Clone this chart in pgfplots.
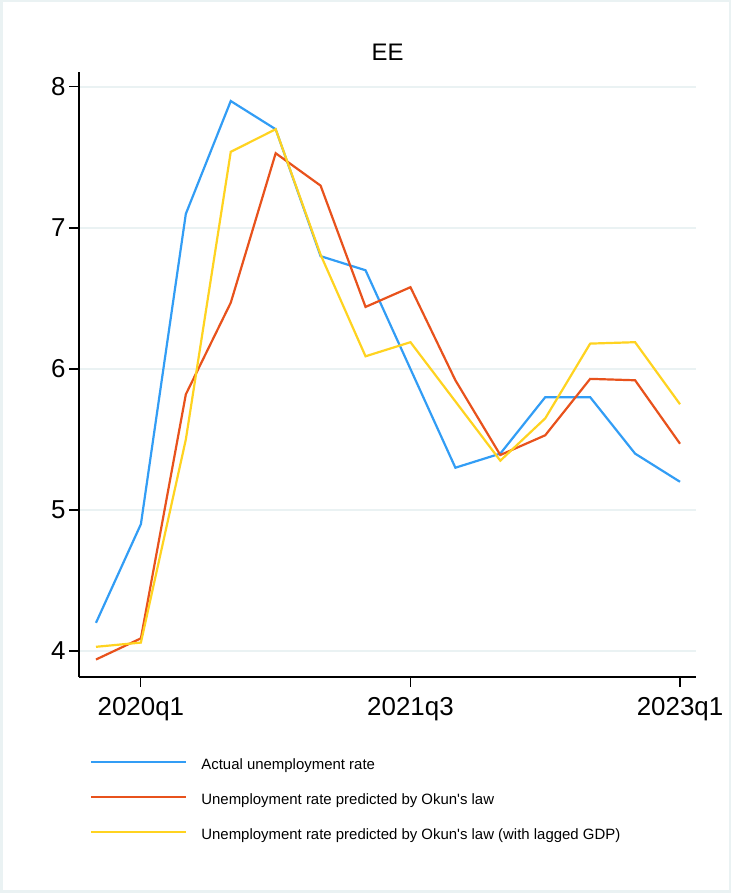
\documentclass[border=0pt]{standalone}
\usepackage{fontspec}
\setmainfont{Liberation Sans}
\usepackage{pgfplots}
\pgfplotsset{compat=1.18}

\definecolor{actblue}{RGB}{50,157,245}
\definecolor{okunred}{RGB}{232,82,28}
\definecolor{lagyellow}{RGB}{255,211,32}
\definecolor{gridgray}{RGB}{234,242,243}

% quarters: -1 = 2019q4, 0 = 2020q1, ..., 12 = 2023q1
\begin{document}
\begin{tikzpicture}[x=1bp,y=1bp]
  \useasboundingbox (0,0) rectangle (731,893);
  \draw[gridgray, line width=2.5bp] (1.25,1.25) rectangle (729.75,891.75);
  \begin{axis}[
    at={(79bp,216bp)}, anchor=south west,
    scale only axis,
    width=617bp, height=605bp,
    xmin=-1.378, xmax=12.356,
    ymin=3.816, ymax=8.106,
    axis x line*=bottom,
    axis y line*=left,
    axis line style={line width=1.3bp, black},
    xtick={0,6,12},
    xticklabels={2020q1,2021q3,2023q1},
    ytick={4,5,6,7,8},
    tick style={black, line width=1.1bp},
    major tick length=10bp,
    tick align=outside,
    ymajorgrids=true,
    grid style={gridgray, line width=1.5bp},
    ticklabel style={font=\fontsize{26}{28}\selectfont},
    /pgf/number format/assume math mode=true,
    xticklabel style={yshift=-7bp},
    title={EE},
    title style={font=\fontsize{24}{28}\selectfont, yshift=2bp},
    legend style={
      at={(0.0178,-0.135)}, anchor=north west,
      draw=none, fill=none, inner sep=0pt,
      font=\fontsize{15}{18}\selectfont,
      row sep=20bp,
      nodes={text height=11bp, text depth=4bp, inner sep=0pt},
      /tikz/every even column/.append style={column sep=0bp},
    },
    legend cell align=left,
    legend image code/.code={\draw[#1] (0bp,4bp) -- (95bp,4bp); \path (109bp,0);},
  ]
    \addplot[actblue, line width=2.2bp] coordinates {
      (-1,4.20) (0,4.90) (1,7.10) (2,7.90) (3,7.70) (4,6.80) (5,6.70)
      (6,6.00) (7,5.30) (8,5.40) (9,5.80) (10,5.80) (11,5.40) (12,5.20)
    };
    \addlegendentry{Actual unemployment rate}
    \addplot[okunred, line width=2.2bp] coordinates {
      (-1,3.94) (0,4.09) (1,5.82) (2,6.47) (3,7.53) (4,7.30) (5,6.44)
      (6,6.58) (7,5.92) (8,5.39) (9,5.53) (10,5.93) (11,5.92) (12,5.47)
    };
    \addlegendentry{Unemployment rate predicted by Okun\textquotesingle s law}
    \addplot[lagyellow, line width=2.2bp] coordinates {
      (-1,4.03) (0,4.06) (1,5.50) (2,7.54) (3,7.70) (4,6.81) (5,6.09)
      (6,6.19) (7,5.77) (8,5.35) (9,5.65) (10,6.18) (11,6.19) (12,5.75)
    };
    \addlegendentry{Unemployment rate predicted by Okun\textquotesingle s law (with lagged GDP)}
  \end{axis}
\end{tikzpicture}
\end{document}
